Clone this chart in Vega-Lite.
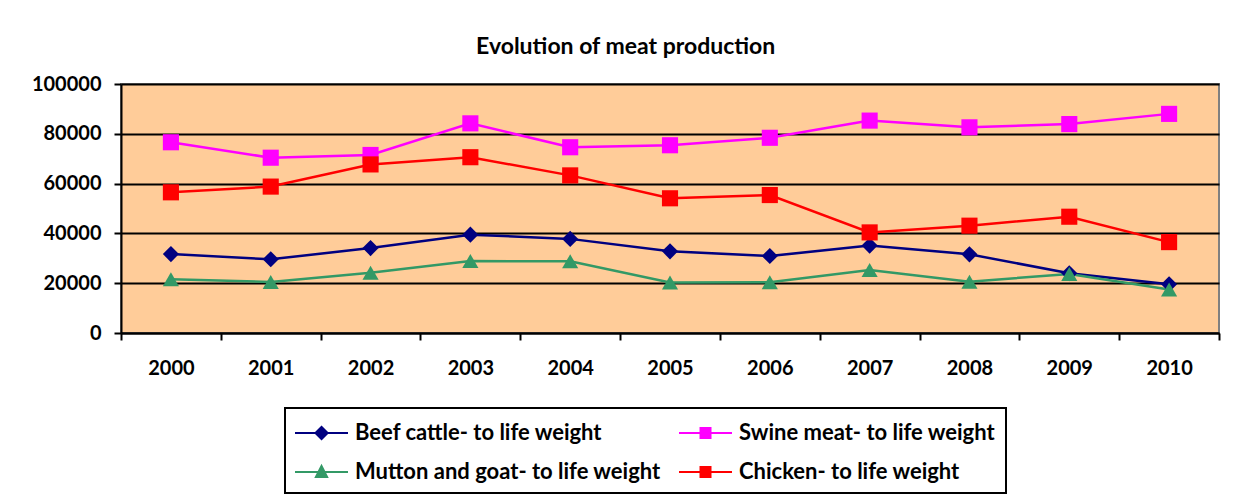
{
  "$schema": "https://vega.github.io/schema/vega-lite/v6.json",
  "width": 1098,
  "height": 249,
  "autosize": "none",
  "padding": {"left": 121, "top": 84, "right": 16, "bottom": 163},
  "background": "white",
  "title": {
    "text": "Evolution of meat production",
    "anchor": "middle",
    "frame": "bounds",
    "offset": 15,
    "font": "Lato",
    "fontSize": 23,
    "fontWeight": "bold",
    "color": "black"
  },
  "config": {
    "view": {"fill": "#FFCC99", "stroke": "#808080", "strokeWidth": 2},
    "font": "Lato",
    "legend": {"strokeWidth": 2}
  },
  "data": {
    "values": [
      {"year": "2000", "series": "Beef cattle- to life weight", "value": 31700},
      {"year": "2001", "series": "Beef cattle- to life weight", "value": 29600},
      {"year": "2002", "series": "Beef cattle- to life weight", "value": 34100},
      {"year": "2003", "series": "Beef cattle- to life weight", "value": 39500},
      {"year": "2004", "series": "Beef cattle- to life weight", "value": 37800},
      {"year": "2005", "series": "Beef cattle- to life weight", "value": 32800},
      {"year": "2006", "series": "Beef cattle- to life weight", "value": 30900},
      {"year": "2007", "series": "Beef cattle- to life weight", "value": 35100},
      {"year": "2008", "series": "Beef cattle- to life weight", "value": 31600},
      {"year": "2009", "series": "Beef cattle- to life weight", "value": 24000},
      {"year": "2010", "series": "Beef cattle- to life weight", "value": 19600},
      {"year": "2000", "series": "Swine meat- to life weight", "value": 76600},
      {"year": "2001", "series": "Swine meat- to life weight", "value": 70400},
      {"year": "2002", "series": "Swine meat- to life weight", "value": 71500},
      {"year": "2003", "series": "Swine meat- to life weight", "value": 84200},
      {"year": "2004", "series": "Swine meat- to life weight", "value": 74600},
      {"year": "2005", "series": "Swine meat- to life weight", "value": 75400},
      {"year": "2006", "series": "Swine meat- to life weight", "value": 78400},
      {"year": "2007", "series": "Swine meat- to life weight", "value": 85300},
      {"year": "2008", "series": "Swine meat- to life weight", "value": 82600},
      {"year": "2009", "series": "Swine meat- to life weight", "value": 83900},
      {"year": "2010", "series": "Swine meat- to life weight", "value": 88000},
      {"year": "2000", "series": "Mutton and goat- to life weight", "value": 21600},
      {"year": "2001", "series": "Mutton and goat- to life weight", "value": 20500},
      {"year": "2002", "series": "Mutton and goat- to life weight", "value": 24200},
      {"year": "2003", "series": "Mutton and goat- to life weight", "value": 28900},
      {"year": "2004", "series": "Mutton and goat- to life weight", "value": 28800},
      {"year": "2005", "series": "Mutton and goat- to life weight", "value": 20300},
      {"year": "2006", "series": "Mutton and goat- to life weight", "value": 20400},
      {"year": "2007", "series": "Mutton and goat- to life weight", "value": 25300},
      {"year": "2008", "series": "Mutton and goat- to life weight", "value": 20600},
      {"year": "2009", "series": "Mutton and goat- to life weight", "value": 23700},
      {"year": "2010", "series": "Mutton and goat- to life weight", "value": 17500},
      {"year": "2000", "series": "Chicken- to life weight", "value": 56500},
      {"year": "2001", "series": "Chicken- to life weight", "value": 58800},
      {"year": "2002", "series": "Chicken- to life weight", "value": 67700},
      {"year": "2003", "series": "Chicken- to life weight", "value": 70600},
      {"year": "2004", "series": "Chicken- to life weight", "value": 63300},
      {"year": "2005", "series": "Chicken- to life weight", "value": 54100},
      {"year": "2006", "series": "Chicken- to life weight", "value": 55400},
      {"year": "2007", "series": "Chicken- to life weight", "value": 40400},
      {"year": "2008", "series": "Chicken- to life weight", "value": 43100},
      {"year": "2009", "series": "Chicken- to life weight", "value": 46700},
      {"year": "2010", "series": "Chicken- to life weight", "value": 36500}
    ]
  },
  "encoding": {
    "x": {
      "field": "year",
      "type": "ordinal",
      "bandPosition": 0.5,
      "scale": {"type": "band", "paddingInner": 0, "paddingOuter": 0},
      "axis": {
        "title": null,
        "labelAngle": 0,
        "tickBand": "extent",
        "domainColor": "black",
        "domainWidth": 2,
        "tickColor": "black",
        "tickWidth": 2,
        "tickSize": 7,
        "labelFont": "Lato",
        "labelFontSize": 20,
        "labelFontWeight": "bold",
        "labelColor": "black",
        "labelPadding": 18,
        "grid": false
      }
    },
    "y": {
      "field": "value",
      "type": "quantitative",
      "scale": {"domain": [0, 100000], "nice": false},
      "axis": {
        "title": null,
        "values": [0, 20000, 40000, 60000, 80000, 100000],
        "format": "d",
        "domainColor": "black",
        "domainWidth": 2,
        "tickColor": "black",
        "tickWidth": 2,
        "tickSize": 7,
        "labelFont": "Lato",
        "labelFontSize": 20,
        "labelFontWeight": "bold",
        "labelColor": "black",
        "labelPadding": 13,
        "grid": true,
        "gridColor": "black",
        "gridWidth": 2,
        "gridOpacity": 1
      }
    },
    "color": {
      "field": "series",
      "type": "nominal",
      "scale": {
        "domain": ["Beef cattle- to life weight", "Swine meat- to life weight", "Mutton and goat- to life weight", "Chicken- to life weight"],
        "range": ["#000080", "#FF00FF", "#339966", "#FF0000"]
      },
      "legend": {
        "title": null,
        "orient": "none",
        "legendX": 164,
        "legendY": 324,
        "direction": "horizontal",
        "columns": 2,
        "gridAlign": "all",
        "columnPadding": 18,
        "rowPadding": 13,
        "padding": 10,
        "strokeColor": "black",
        "fillColor": "white",
        "symbolSize": 900,
        "symbolStrokeWidth": 0,
        "symbolOpacity": 1,
        "symbolType": {"expr": "datum.value === 'Beef cattle- to life weight' ? 'M-1,-0.07H2.533V0.07H-1ZM0.767,-0.5L1.267,0L0.767,0.5L0.267,0Z' : (datum.value === 'Mutton and goat- to life weight' ? 'M-1,-0.07H2.533V0.07H-1ZM0.767,-0.55L1.25,0.4L0.284,0.4Z' : 'M-1,-0.07H2.533V0.07H-1ZM0.367,-0.4H1.167V0.4H0.367Z')"},
        "labelOffset": 30,
        "labelFont": "Lato",
        "labelFontSize": 22,
        "labelFontWeight": "bold",
        "labelColor": "black",
        "labelLimit": 0
      }
    }
  },
  "layer": [
    {
      "mark": {"type": "line", "strokeWidth": 2.5}
    },
    {
      "transform": [{"filter": {"field": "series", "equal": "Beef cattle- to life weight"}}],
      "mark": {"type": "point", "filled": true, "shape": "diamond", "size": 260, "opacity": 1}
    },
    {
      "transform": [{"filter": {"field": "series", "equal": "Swine meat- to life weight"}}],
      "mark": {"type": "point", "filled": true, "shape": "square", "size": 260, "opacity": 1}
    },
    {
      "transform": [{"filter": {"field": "series", "equal": "Mutton and goat- to life weight"}}],
      "mark": {"type": "point", "filled": true, "shape": "triangle-up", "size": 260, "opacity": 1}
    },
    {
      "transform": [{"filter": {"field": "series", "equal": "Chicken- to life weight"}}],
      "mark": {"type": "point", "filled": true, "shape": "square", "size": 260, "opacity": 1}
    }
  ]
}
